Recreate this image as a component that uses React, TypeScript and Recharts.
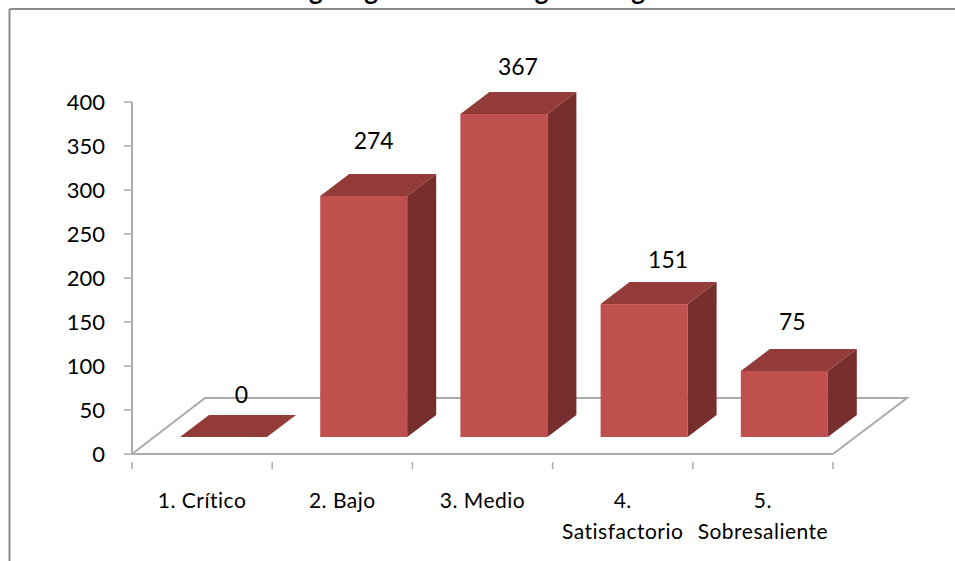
import { BarChart, Bar, XAxis, YAxis, LabelList } from "recharts";

const categories = ["1. Crítico", "2. Bajo", "3. Medio", "4. Satisfactorio", "5. Sobresaliente"];
const counts = [0, 274, 367, 151, 75];
const yTicks = [0, 50, 100, 150, 200, 250, 300, 350, 400];

const data = categories.map((name, i) => ({ name, value: counts[i] }));

const FONT = "Lato, Carlito, sans-serif";
const AXIS = "#ABABAB";
const BAND = 140.2;

// the fake 3D: bars stand on a floor behind the axis line
const SHIFT_X = 21;
const SHIFT_Y = -17;
const DEPTH_X = 29;
const DEPTH_Y = 22;

// labels were moved by hand in the original
const labelNudge = [
  [39, -60],
  [31, -73],
  [35, -65],
  [45, -62],
  [29, -67],
];

function Box(props: any) {
  const x = props.x + SHIFT_X;
  const y = props.y + SHIFT_Y;
  const w = props.width;
  const h = props.height;
  const top = `${x},${y} ${x + w},${y} ${x + w + DEPTH_X},${y - DEPTH_Y} ${x + DEPTH_X},${y - DEPTH_Y}`;
  const side = `${x + w},${y} ${x + w + DEPTH_X},${y - DEPTH_Y} ${x + w + DEPTH_X},${y + h - DEPTH_Y} ${x + w},${y + h}`;
  return (
    <g>
      <rect x={x} y={y} width={w} height={h} fill="#C0504D" />
      <polygon points={side} fill="#772F2E" />
      <polygon points={top} fill="#933B39" />
    </g>
  );
}

function CategoryTick(props: any) {
  const { x, y, index, payload } = props;
  const text: string = payload.value;
  const lines = text.length > 12 ? text.split(" ") : [text];
  const left = x - BAND / 2;
  return (
    <g>
      <line x1={left} x2={left} y1={y} y2={y + 7} stroke={AXIS} strokeWidth={1.5} />
      {index === categories.length - 1 && (
        <line x1={left + BAND} x2={left + BAND} y1={y} y2={y + 7} stroke={AXIS} strokeWidth={1.5} />
      )}
      {lines.map((line, i) => (
        <text
          key={i}
          x={x}
          y={y + 46 + i * 31}
          textAnchor="middle"
          fontSize={21}
          letterSpacing={0.5}
          fontFamily={FONT}
          fill="#000"
        >
          {line}
        </text>
      ))}
    </g>
  );
}

function ValueLabel(props: any) {
  const { x, y, width, index, value } = props;
  const [dx, dy] = labelNudge[index];
  return (
    <text x={x + width / 2 + dx} y={y + dy + 9} textAnchor="middle" fontSize={23} fontFamily={FONT} fill="#000">
      {value}
    </text>
  );
}

export default function App() {
  return (
    <div style={{ position: "fixed", left: 0, top: 0, width: 955, height: 561, overflow: "hidden", background: "#fff" }}>
      <BarChart
        width={955}
        height={561}
        data={data}
        barSize={87}
        margin={{ top: 102, right: 122, bottom: 0, left: 72 }}
      >
        {/* the source image cuts the title off at the top edge */}
        <text x={488} y={0} textAnchor="middle" fontSize={26} letterSpacing={1.4} fontWeight={700} fontFamily={FONT} fill="#000">
          Resultados Mag. Ing.: Calidad según rango de calificación
        </text>
        <line x1={9.5} x2={955} y1={9} y2={9} stroke="#8C8C8C" strokeWidth={2} />
        <line x1={9.5} x2={9.5} y1={9} y2={561} stroke="#8C8C8C" strokeWidth={2} />
        <polyline points="132,454 205,398 907,398 833,454" fill="none" stroke={AXIS} strokeWidth={2} />

        <XAxis
          dataKey="name"
          height={107}
          interval={0}
          axisLine={{ stroke: AXIS, strokeWidth: 2 }}
          tickLine={false}
          tick={<CategoryTick />}
        />
        <YAxis
          width={60}
          domain={[0, 400]}
          ticks={yTicks}
          interval={0}
          axisLine={{ stroke: AXIS, strokeWidth: 2 }}
          tickLine={{ stroke: AXIS, strokeWidth: 1.5 }}
          tickSize={8}
          tickMargin={19}
          tick={{ fill: "#000", fontSize: 22, fontFamily: FONT }}
        />
        <Bar dataKey="value" shape={<Box />} isAnimationActive={false}>
          <LabelList dataKey="value" content={<ValueLabel />} />
        </Bar>
      </BarChart>
    </div>
  );
}
